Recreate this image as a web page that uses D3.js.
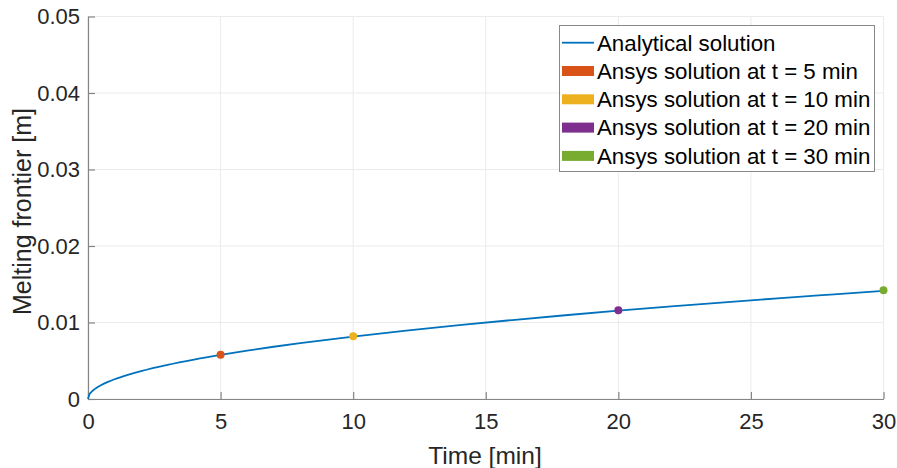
<!DOCTYPE html>
<html><head><meta charset="utf-8">
<script src="https://cdn.jsdelivr.net/npm/d3@7"></script>
<style>body{margin:0;background:#fff}svg{display:block}</style>
</head><body><svg id="c" width="897" height="468"></svg>
<script>
const xTicks = [0,5,10,15,20,25,30];
const yTicks = [0,0.01,0.02,0.03,0.04,0.05];
const yTickLabels = ["0","0.01","0.02","0.03","0.04","0.05"];
const analyticalT = [0,0.05,0.1,0.25,0.5,0.75,1,1.5,2,3,4,5,6,7,8,10,12,14,16,18,20,22,24,26,28,30];
const analyticalY = [0,0.00058,0.00082,0.00129,0.00182,0.00223,0.00258,0.00316,0.00365,0.00447,0.00516,0.00577,0.00632,0.00683,0.0073,0.00816,0.00894,0.00965,0.01032,0.01095,0.01154,0.0121,0.01264,0.01316,0.01365,0.01413];
const ansysT = [5,10,20,30];
const ansysY = [0.0058,0.0082,0.0116,0.0142];
const seriesNames = ["Analytical solution","Ansys solution at t = 5 min","Ansys solution at t = 10 min","Ansys solution at t = 20 min","Ansys solution at t = 30 min"];
const colors = ["#0072BD","#D95319","#EDB120","#7E2F8E","#77AC30"];

const svg = d3.select("#c");
const font = "'Liberation Sans', Arial, sans-serif";
const x = d3.scaleLinear().domain([0,30]).range([88,883.5]);
const y = d3.scaleLinear().domain([0,0.05]).range([399,16.5]);

// grid
svg.append("g").selectAll("line").data(xTicks).join("line")
  .attr("x1",d=>x(d)).attr("x2",d=>x(d)).attr("y1",y(0)).attr("y2",y(0.05))
  .attr("stroke","#ebebeb").attr("stroke-width",1);
svg.append("g").selectAll("line").data(yTicks).join("line")
  .attr("x1",x(0)).attr("x2",x(30)).attr("y1",d=>y(d)).attr("y2",d=>y(d))
  .attr("stroke","#ebebeb").attr("stroke-width",1);

// axes
const xa = svg.append("g").attr("transform",`translate(0,${y(0)})`)
  .call(d3.axisBottom(x).tickValues(xTicks).tickSizeInner(-7).tickSizeOuter(0).tickPadding(14));
const ya = svg.append("g").attr("transform",`translate(${x(0)},0)`)
  .call(d3.axisLeft(y).tickValues(yTicks).tickFormat((d,i)=>yTickLabels[i]).tickSizeInner(-7).tickSizeOuter(0).tickPadding(8));
[xa,ya].forEach(a=>{
  a.select(".domain").attr("stroke","#858585").attr("stroke-width",1.2);
  a.selectAll(".tick line").attr("stroke","#858585").attr("stroke-width",1.2);
  a.selectAll("text").attr("font-family",font).attr("font-size",22).attr("fill","#262626");
});
xa.selectAll("text").attr("y",14).attr("dy","0.71em");

// line
const line = d3.line().x((d,i)=>x(analyticalT[i])).y(d=>y(d)).curve(d3.curveMonotoneX);
svg.append("path").datum(analyticalY).attr("d",line).attr("fill","none")
  .attr("stroke",colors[0]).attr("stroke-width",1.8);

// points
svg.append("g").selectAll("circle").data(ansysY).join("circle")
  .attr("cx",(d,i)=>x(ansysT[i])).attr("cy",d=>y(d)).attr("r",4)
  .attr("fill",(d,i)=>colors[i+1]);

// axis labels
svg.append("text").attr("x",485).attr("y",464).attr("text-anchor","middle")
  .attr("font-family",font).attr("font-size",24.5).attr("fill","#262626").text("Time [min]");
svg.append("text").attr("transform","translate(31,211.5) rotate(-90)").attr("text-anchor","middle")
  .attr("font-family",font).attr("font-size",25).attr("fill","#262626").text("Melting frontier [m]");

// legend
const lg = svg.append("g");
lg.append("rect").attr("x",559.5).attr("y",25.5).attr("width",315).attr("height",146)
  .attr("fill","#fff").attr("stroke","#262626").attr("stroke-opacity",0.55).attr("stroke-width",1);
const rowY = i => 42.7 + i*28.3;
seriesNames.forEach((name,i)=>{
  if(i===0){
    lg.append("line").attr("x1",562).attr("x2",594).attr("y1",rowY(i)).attr("y2",rowY(i))
      .attr("stroke",colors[0]).attr("stroke-width",1.8);
  } else {
    lg.append("rect").attr("x",562).attr("y",rowY(i)-5).attr("width",32).attr("height",10)
      .attr("fill",colors[i]);
  }
  lg.append("text").attr("x",597).attr("y",rowY(i)).attr("dy","0.35em")
    .attr("font-family",font).attr("font-size",22.3).attr("fill","#000").text(name);
});
</script></body></html>
